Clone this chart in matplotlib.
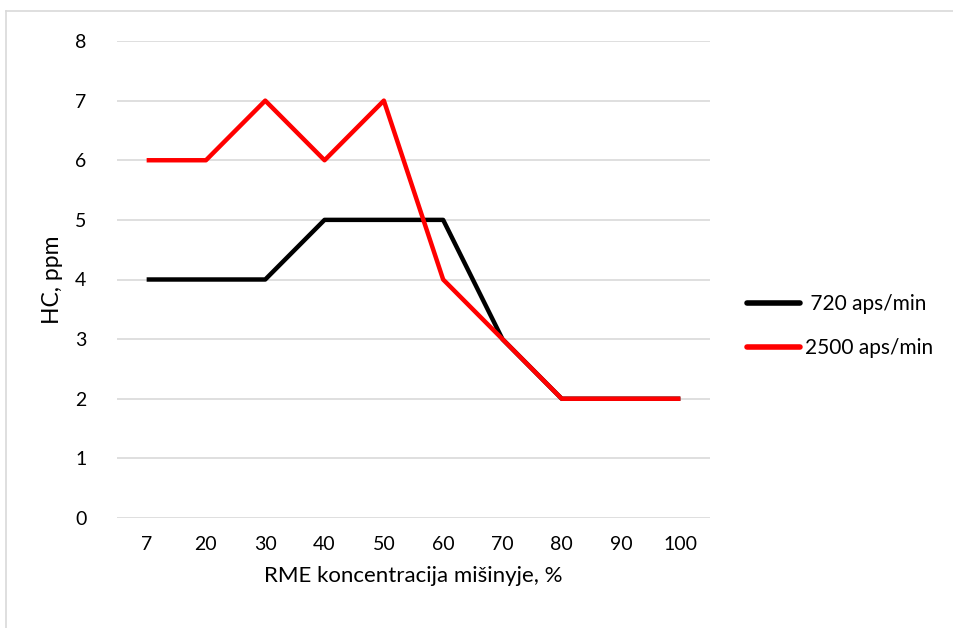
import matplotlib
matplotlib.use("Agg")
import matplotlib.pyplot as plt
from matplotlib.lines import Line2D

plt.rcParams['font.family'] = ['Lato', 'DejaVu Sans']

categories = ["7", "20", "30", "40", "50", "60", "70", "80", "90", "100"]
hc_720 = [4, 4, 4, 5, 5, 5, 3, 2, 2, 2]
hc_2500 = [6, 6, 7, 6, 7, 4, 3, 2, 2, 2]
series_labels = [" 720 aps/min", "2500 aps/min"]
yticks = [0, 1, 2, 3, 4, 5, 6, 7, 8]

W, H = 954, 628
fig = plt.figure(figsize=(W / 100, H / 100), dpi=100)
ax = fig.add_axes([117 / W, 1 - 518 / H, (710 - 117) / W, (518 - 41) / H])

x = list(range(len(categories)))
ax.plot(x, hc_720, color="black", lw=3.2, label=series_labels[0], solid_capstyle="butt", zorder=3)
ax.plot(x, hc_2500, color="#FF0000", lw=3.2, label=series_labels[1], solid_capstyle="butt", zorder=4)

ax.set_xlim(-0.5, len(categories) - 0.5)
ax.set_ylim(0, 8)
ax.set_xticks(x)
ax.set_xticklabels(categories)
ax.set_yticks(yticks)
ax.yaxis.grid(True, color="#D9D9D9", lw=1.2)
ax.set_axisbelow(True)
for s in ax.spines.values():
    s.set_visible(False)
ax.tick_params(axis="both", length=0, labelsize=14, colors="black")
ax.tick_params(axis="x", pad=13)
ax.tick_params(axis="y", pad=22)
ax.set_xlabel("RME koncentracija mišinyje, %", fontsize=16, labelpad=9)
ax.set_ylabel("HC, ppm", fontsize=16.5, labelpad=9)

handles = [Line2D([], [], color="black", lw=4, solid_capstyle="round"),
           Line2D([], [], color="#FF0000", lw=4, solid_capstyle="round")]
fig.legend(handles, series_labels, loc="center left", bbox_to_anchor=(747 / W, 1 - 326 / H),
           frameon=False, fontsize=15, handlelength=2.55, handletextpad=0.25, labelspacing=1.15,
           borderpad=0.0, borderaxespad=0.0)

# chart border
fig.add_artist(Line2D([6 / W, 6 / W], [0, 1 - 11 / H], transform=fig.transFigure, color="#D9D9D9", lw=1.2))
fig.add_artist(Line2D([6 / W, 1], [1 - 11 / H, 1 - 11 / H], transform=fig.transFigure, color="#D9D9D9", lw=1.2))

fig.savefig("out.png", dpi=100)
